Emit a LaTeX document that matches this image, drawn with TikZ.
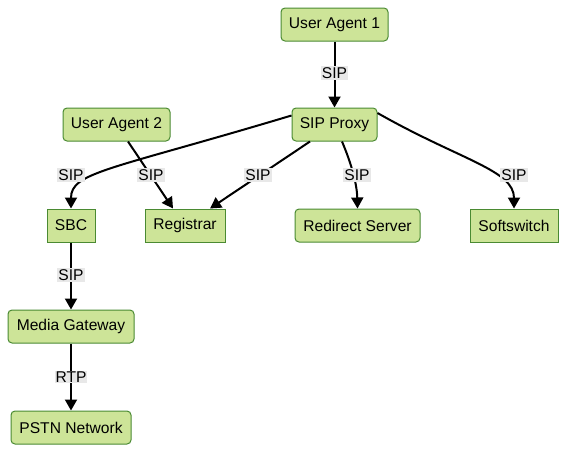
\documentclass[tikz,border=0pt]{standalone}
\usepackage{fontspec}
\setmainfont{Liberation Sans}
\usetikzlibrary{arrows.meta}
\definecolor{nodefill}{HTML}{CDE498}
\definecolor{nodeborder}{HTML}{4A8A32}
\definecolor{lblbg}{HTML}{E8E8E8}
\tikzset{
  base/.style={draw=nodeborder, fill=nodefill, line width=1pt, minimum height=33pt, inner sep=0pt, font=\fontsize{15.6}{18}\selectfont, text=black},
  rbox/.style={base, rounded corners=4pt},
  sbox/.style={base},
  lbl/.style={fill=lblbg, inner sep=1pt, font=\fontsize{15.6}{18}\selectfont, text=black},
  conn/.style={line width=2pt, -{Triangle[length=11pt,width=12pt]}},
}
\begin{document}
\begin{tikzpicture}[x=1pt,y=-1pt]
\useasboundingbox (0,0) rectangle (567,453);
\node[rbox, minimum width=107pt] (ua1) at (334.5,24.5) {User Agent 1};
\node[rbox, minimum width=85pt] (proxy) at (334.5,124.5) {SIP Proxy};
\node[rbox, minimum width=107pt] (ua2) at (116.5,124.5) {User Agent 2};
\node[sbox, minimum width=48pt] (sbc) at (71,225.5) {SBC};
\node[sbox, minimum width=80pt] (reg) at (185,225.5) {Registrar};
\node[rbox, minimum width=125pt] (redir) at (357.5,225.5) {Redirect Server};
\node[sbox, minimum width=88pt] (soft) at (514,225.5) {Softswitch};
\node[rbox, minimum width=126pt] (mg) at (71,326.5) {Media Gateway};
\node[rbox, minimum width=120pt] (pstn) at (71,427.5) {PSTN Network};

\draw[conn] (ua1) -- (proxy);
\draw[conn] ([yshift=9pt]proxy.west) .. controls (110,170) and (71,172) .. (sbc.north);
\draw[conn] ([xshift=11.5pt]ua2.south) -- ([xshift=-12pt]reg.north);
\draw[conn] ([xshift=-24.5pt]proxy.south) -- ([xshift=25pt]reg.north);
\draw[conn] ([xshift=7.5pt]proxy.south) .. controls (352,165) and (357,185) .. (redir.north);
\draw[conn] ([yshift=11.5pt]proxy.east) .. controls (460,160) and (514,170) .. (soft.north);
\draw[conn] (sbc) -- (mg);
\draw[conn] (mg) -- (pstn);

\node[lbl] (l1) at (334.5,73) {SIP};
\node[lbl] (l2) at (71,175) {SIP};
\node[lbl] (l3) at (151,175) {SIP};
\node[lbl] (l4) at (258,175) {SIP};
\node[lbl] (l5) at (357,175) {SIP};
\node[lbl] (l6) at (514,175) {SIP};
\node[lbl] (l7) at (71,275) {SIP};
\node[lbl] (l8) at (71,377) {RTP};
\end{tikzpicture}
\end{document}
